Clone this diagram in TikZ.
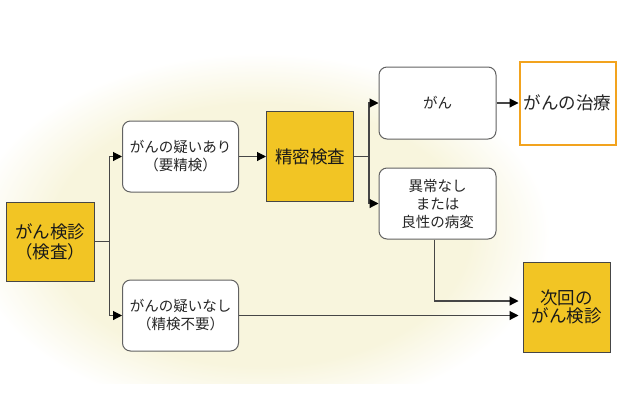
\documentclass[tikz,border=0pt]{standalone}
\usepackage{fontspec}
\setmainfont{Noto Sans CJK JP}
\usepackage{xcolor}
\usepackage{tikz}
\usetikzlibrary{arrows.meta,positioning}

\definecolor{cream}{RGB}{248,245,221}
\definecolor{examyellow}{RGB}{242,197,36}
\definecolor{treatorange}{RGB}{242,163,30}
\definecolor{linegray}{RGB}{70,70,70}
\pgfdeclareradialshading{glow}{\pgfpoint{0bp}{0bp}}{color(0bp)=(cream); color(18bp)=(cream); color(25bp)=(white); color(50bp)=(white)}

\begin{document}
\begin{tikzpicture}[
    x=1pt, y=-1pt,
    node distance=28pt and 27pt,
    exambox/.style={draw=linegray, line width=1pt, fill=examyellow, align=center, minimum width=87pt, minimum height=90pt, inner sep=0pt, font=\fontsize{17.5}{17}\selectfont, text=black!90},
    resultbox/.style={draw=linegray!85, line width=1pt, fill=white, rounded corners=8pt, align=center, minimum width=116pt, minimum height=71pt, inner sep=0pt, font=\fontsize{14.5}{18}\selectfont, text=black!85},
    treatbox/.style={draw=treatorange, line width=2pt, fill=white, align=center, minimum width=96pt, minimum height=83pt, inner sep=0pt, font=\fontsize{17.5}{19}\selectfont, text=black!85},
    arrow/.style={-{Triangle[length=9pt,width=9pt,color=black]}, draw=linegray, line width=1.1pt}
  ]
    \useasboundingbox (0,0) rectangle (620,413);
    \begin{scope}
      \clip (0,0) rectangle (620,383);
      \shade[shading=glow] (260,235) ellipse [x radius=290pt, y radius=182pt];
    \end{scope}

    \node[exambox, minimum width=88pt, minimum height=79pt, font=\fontsize{17.5}{20}\selectfont] (kenshin) at (50,241.5) {がん検診\\（検査）};
    \node[resultbox] (ari) at (180.5,156.5) {がんの疑いあり\\（要精検）};
    \node[resultbox, below=87pt of ari] (nashi) {がんの疑いなし\\（精検不要）};
    \node[exambox, right=27pt of ari] (seimitsu) {精密検査};
    \node[resultbox, minimum width=117pt, minimum height=72pt] (gan) at (437.5,103) {がん};
    \node[resultbox, minimum width=117pt, below=28pt of gan] (ijou) {異常なし\\または\\良性の病変};
    \node[treatbox, right=22pt of gan] (chiryou) {がんの治療};
    \node[exambox, font=\fontsize{17.5}{16}\selectfont] (jikai) at (566.5,307) {次回の\\がん検診};

    \draw[arrow] (kenshin.east) -- ++(15,0) |- (ari);
    \draw[arrow] (kenshin.east) -- ++(15,0) |- (nashi);
    \draw[arrow] (ari) -- (seimitsu);
    \draw[arrow] (seimitsu.east) -- ++(15,0) |- (gan);
    \draw[arrow] (seimitsu.east) -- ++(15,0) |- (ijou);
    \draw[arrow] (gan) -- (chiryou);
    \draw[arrow, shorten >=4pt] ([xshift=-3pt]ijou.south) |- ([yshift=6pt]jikai.west);
    \draw[arrow, shorten >=4pt] (nashi) -- (nashi -| jikai.west);
  \end{tikzpicture}
\end{document}
